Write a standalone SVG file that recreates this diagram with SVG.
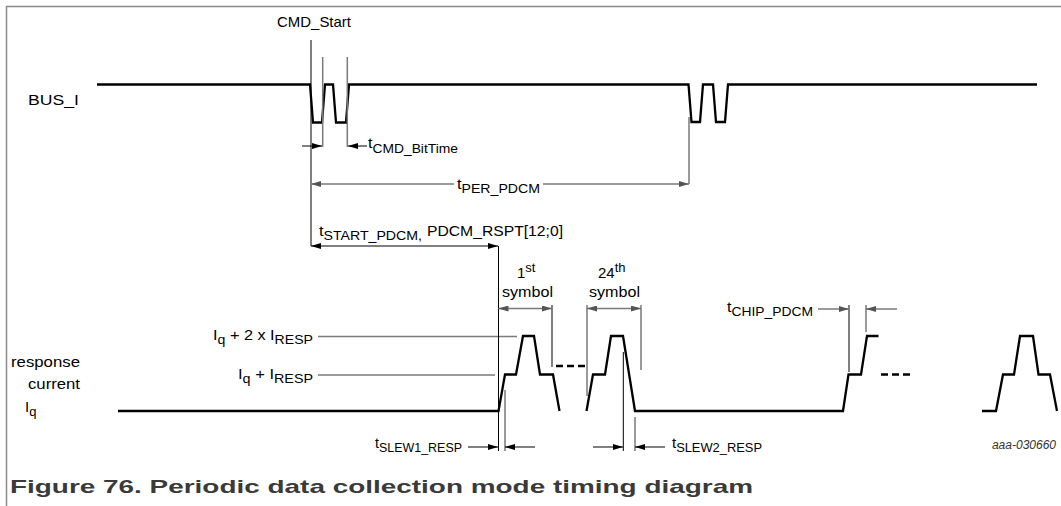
<svg xmlns="http://www.w3.org/2000/svg" width="1061" height="506" viewBox="0 0 1061 506">
<style>
text{font-family:"Liberation Sans",Arial,sans-serif;font-size:15px;fill:#000}
.sub{font-size:13px}
.wave{fill:none;stroke:#000;stroke-width:2.3;stroke-linejoin:miter}
.thin{stroke:#000;stroke-width:1;fill:none}
.grey{stroke:#7a7a7a;stroke-width:1.5;fill:none}
.dash{stroke:#000;stroke-width:2.3;stroke-dasharray:7 4;fill:none}
.frame{stroke:#8a8a8a;stroke-width:1.5;fill:none}
</style>
<defs>
<marker id="ah" viewBox="0 0 10 6" refX="10" refY="3" markerWidth="10" markerHeight="6" orient="auto-start-reverse" markerUnits="userSpaceOnUse"><path d="M0,0 L10,3 L0,6 z" fill="#000"/></marker>
<marker id="ahg" viewBox="0 0 10 6" refX="10" refY="3" markerWidth="10" markerHeight="6" orient="auto-start-reverse" markerUnits="userSpaceOnUse"><path d="M0,0 L10,3 L0,6 z" fill="#555"/></marker>
</defs>
<path class="frame" d="M1061 6.5 H6.5 V506"/>
<g id="bus_i">
<text x="28" y="105" textLength="51" lengthAdjust="spacingAndGlyphs">BUS_I</text>
<path class="wave" d="M97 84.5 H310 L313 122.5 H322 L325 84.5 H333 L336 122.5 H346 L349 84.5 H688.5 L691.5 122 H700 L703 84.5 H713 L716 122 H725 L728 84.5 H1037"/>
</g>
<g id="response_current">
<text x="11" y="367" textLength="69" lengthAdjust="spacingAndGlyphs">response</text>
<text x="28" y="389" textLength="52" lengthAdjust="spacingAndGlyphs">current</text>
<text x="25" y="412">I<tspan class="sub" dy="4">q</tspan></text>
<text x="213" y="340" textLength="100" lengthAdjust="spacingAndGlyphs">I<tspan class="sub" dy="4">q</tspan><tspan dy="-4"> + 2 x I</tspan><tspan class="sub" dy="4">RESP</tspan></text>
<text x="238" y="379" textLength="75" lengthAdjust="spacingAndGlyphs">I<tspan class="sub" dy="4">q</tspan><tspan dy="-4"> + I</tspan><tspan class="sub" dy="4">RESP</tspan></text>
<path class="wave" d="M118 411 H498.5 L505 374.5 H516 L523 336 H534 L540 374.5 H553 L559.5 411"/>
<path class="wave" d="M586.5 411 L593 374.5 H605 L611 336 H623 L635 411 H843 L848.5 374.5 H861 L867 336 H878.5"/>
<path class="wave" d="M982 411 H996 L1003 374.5 H1014 L1020 336 H1033 L1038.5 374.5 H1050 L1057 411"/>
<path class="dash" d="M556 366 H585 M881 374.5 H910"/>
</g>
<g id="connectors">
<path class="grey" d="M318 336.5 H517 M318 375 H495"/>
<path class="thin" d="M311 40 V246 M498.5 246 V451 M552 305 V367 M623.3 352 V451 M849 305 V372"/>
<path class="grey" d="M322.7 57 V147 M347.3 57 V147 M689 117 V184 M505 390 V451 M587 305 V396 M635 417 V451 M641 305 V370 M866 305 V332"/>
<path class="thin" d="M302 146 H322" marker-end="url(#ah)"/>
<path class="thin" d="M367 146 H348" marker-end="url(#ah)"/>
<path class="grey" d="M454 184 H311" marker-end="url(#ahg)"/>
<path class="grey" d="M543 184 H689" marker-end="url(#ahg)"/>
<path class="thin" d="M311 246 H498" marker-start="url(#ah)" marker-end="url(#ah)"/>
<path class="grey" d="M498.5 308.5 H552" marker-start="url(#ahg)" marker-end="url(#ahg)"/>
<path class="grey" d="M587 308.5 H641" marker-start="url(#ahg)" marker-end="url(#ahg)"/>
<path class="grey" d="M818 309 H849" marker-end="url(#ahg)"/>
<path class="grey" d="M897 309 H866" marker-end="url(#ahg)"/>
<path class="thin" d="M468 447 H498" marker-end="url(#ah)"/>
<path class="thin" d="M535 447 H505" marker-end="url(#ah)"/>
<path class="thin" d="M593 447 H623" marker-end="url(#ah)"/>
<path class="thin" d="M665 447 H635" marker-end="url(#ah)"/>
</g>
<g id="labels">
<text x="277" y="27" textLength="74" lengthAdjust="spacingAndGlyphs">CMD_Start</text>
<text x="368" y="148" textLength="90" lengthAdjust="spacingAndGlyphs">t<tspan class="sub" dy="5">CMD_BitTime</tspan></text>
<text x="457" y="189" textLength="83" lengthAdjust="spacingAndGlyphs">t<tspan class="sub" dy="4">PER_PDCM</tspan></text>
<text x="319" y="236" textLength="103" lengthAdjust="spacingAndGlyphs">t<tspan class="sub" dy="4">START_PDCM,</tspan></text>
<text x="427" y="236" textLength="136" lengthAdjust="spacingAndGlyphs">PDCM_RSPT[12;0]</text>
<text x="517" y="278">1<tspan class="sub" dy="-6">st</tspan></text>
<text x="502" y="297" textLength="51" lengthAdjust="spacingAndGlyphs">symbol</text>
<text x="598" y="278">24<tspan class="sub" dy="-6">th</tspan></text>
<text x="589" y="297" textLength="51" lengthAdjust="spacingAndGlyphs">symbol</text>
<text x="727" y="312" textLength="86" lengthAdjust="spacingAndGlyphs">t<tspan class="sub" dy="4">CHIP_PDCM</tspan></text>
<text x="375" y="448" textLength="87" lengthAdjust="spacingAndGlyphs">t<tspan class="sub" dy="4">SLEW1_RESP</tspan></text>
<text x="672" y="448" textLength="90" lengthAdjust="spacingAndGlyphs">t<tspan class="sub" dy="4">SLEW2_RESP</tspan></text>
<text x="1056" y="449" text-anchor="end" style="font-size:12px;font-style:italic;fill:#333">aaa-030660</text>
<text x="10" y="493" style="font-size:18.5px;font-weight:bold;fill:#3a3a3a" textLength="743" lengthAdjust="spacingAndGlyphs">Figure 76.  Periodic data collection mode timing diagram</text>
</g>
</svg>
